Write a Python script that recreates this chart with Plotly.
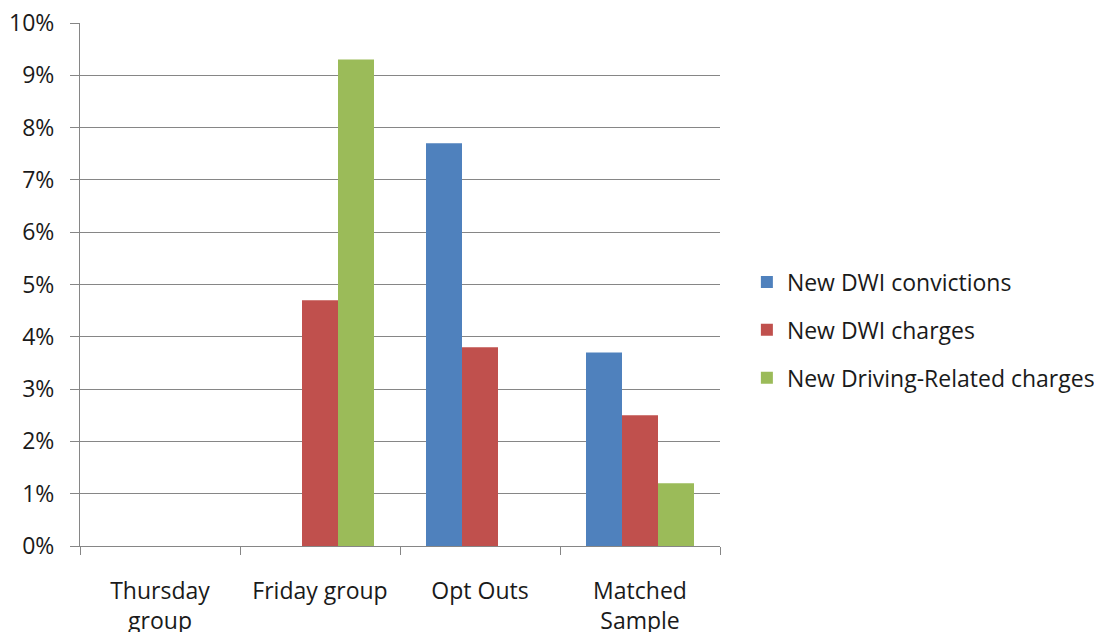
import plotly.graph_objects as go

categories = ["Thursday<br>group", "Friday group", "Opt Outs", "Matched<br>Sample"]
dwi_convictions = [0, 0, 7.7, 3.7]
dwi_charges = [0, 4.7, 3.8, 2.5]
driving_charges = [0, 9.3, 0, 1.2]
y_ticks = list(range(0, 11))
y_tick_labels = [f"{v}%" for v in y_ticks]

series = [
    ("New DWI convictions", dwi_convictions, "#4F81BD"),
    ("New DWI charges", dwi_charges, "#C0504D"),
    ("New Driving-Related charges", driving_charges, "#9BBB59"),
]

fig = go.Figure()
for i, (name, vals, color) in enumerate(series):
    fig.add_trace(go.Bar(
        x=categories, y=vals, name=name,
        marker=dict(color=color, line=dict(width=0)),
        legendgroup=f"g{i}",
    ))

font = "'Open Sans', Lato, sans-serif"
axis_color = "#868686"
text_color = "#1a1a1a"

fig.update_layout(
    width=1094, height=632,
    margin=dict(l=80, r=374, t=23, b=86, autoexpand=False),
    paper_bgcolor="white", plot_bgcolor="white",
    barmode="group", bargap=0.325, bargroupgap=0,
    font=dict(family=font, size=23, color=text_color),
    showlegend=True,
    legend=dict(
        x=1.042, xanchor="left", y=0.413, yanchor="middle",
        font=dict(family=font, size=23, color=text_color),
        tracegroupgap=15, bgcolor="rgba(0,0,0,0)",
    ),
    xaxis=dict(
        type="category", showline=True, linecolor=axis_color, linewidth=1,
        ticks="outside", tickson="boundaries", ticklen=8, tickcolor=axis_color,
        showgrid=False, ticklabelstandoff=24,
    ),
    yaxis=dict(
        range=[0, 10], tickvals=y_ticks, ticktext=y_tick_labels,
        showline=True, linecolor=axis_color, linewidth=1,
        ticks="outside", ticklen=9, tickcolor=axis_color,
        showgrid=True, gridcolor=axis_color, gridwidth=1,
        zeroline=False, ticklabelstandoff=11,
    ),
)

fig.write_html("out.html")
